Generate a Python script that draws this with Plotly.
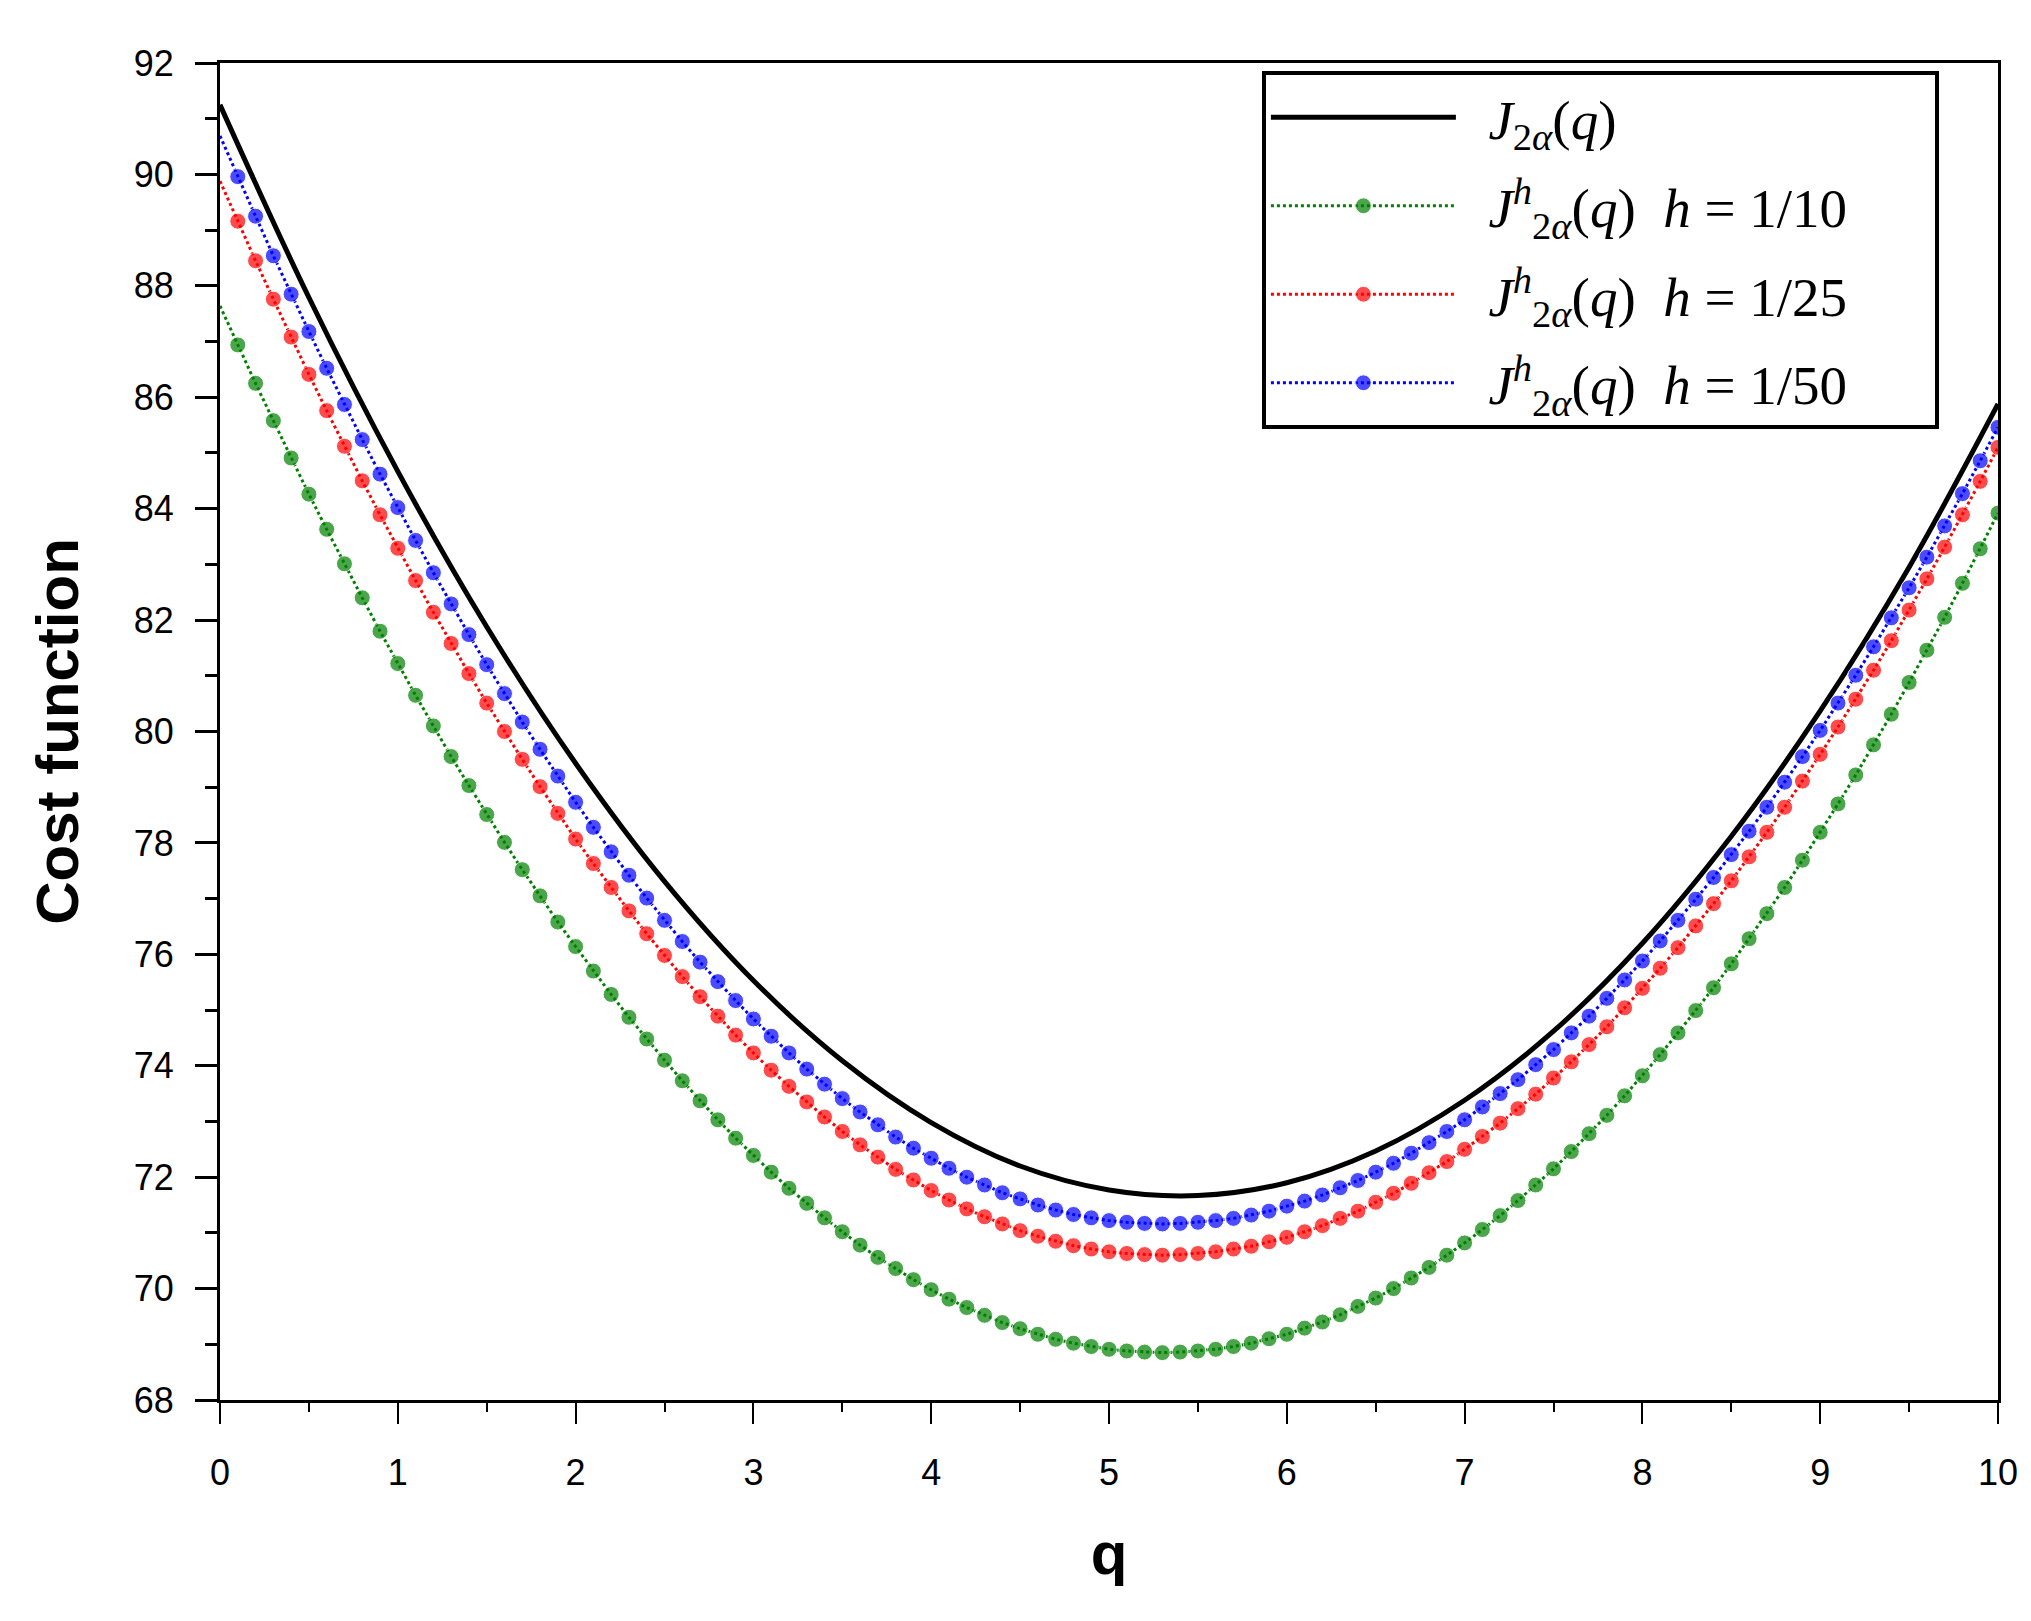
import plotly.graph_objects as go

# q grid for the discrete cost functions (step 0.1) and the exact one (step 0.5)
q_h = [round(i * 0.1, 1) for i in range(101)]
q_exact = [round(i * 0.5, 1) for i in range(21)]

J_exact = [91.25, 87.79, 84.67, 81.88, 79.43, 77.31, 75.53, 74.09, 72.98, 72.20, 71.77,
           71.67, 71.90, 72.47, 73.38, 74.62, 76.20, 78.12, 80.37, 82.95, 85.88]

J_h10 = [87.64, 86.94, 86.25, 85.58, 84.91, 84.26, 83.63, 83.01, 82.40, 81.80,
         81.22, 80.65, 80.10, 79.55, 79.03, 78.51, 78.01, 77.52, 77.05, 76.58,
         76.14, 75.70, 75.28, 74.87, 74.48, 74.10, 73.73, 73.37, 73.03, 72.70,
         72.39, 72.09, 71.80, 71.53, 71.27, 71.02, 70.78, 70.56, 70.36, 70.16,
         69.98, 69.81, 69.66, 69.52, 69.39, 69.28, 69.18, 69.09, 69.02, 68.96,
         68.91, 68.88, 68.86, 68.85, 68.86, 68.88, 68.91, 68.96, 69.02, 69.10,
         69.18, 69.29, 69.40, 69.53, 69.68, 69.83, 70.00, 70.19, 70.38, 70.60,
         70.82, 71.06, 71.31, 71.58, 71.86, 72.15, 72.46, 72.78, 73.11, 73.46,
         73.82, 74.20, 74.59, 74.99, 75.40, 75.83, 76.28, 76.73, 77.20, 77.69,
         78.19, 78.70, 79.22, 79.76, 80.31, 80.88, 81.46, 82.05, 82.66, 83.28,
         83.92]

J_h25 = [89.88, 89.16, 88.45, 87.76, 87.08, 86.41, 85.76, 85.12, 84.50, 83.89,
         83.29, 82.71, 82.14, 81.58, 81.04, 80.51, 80.00, 79.50, 79.01, 78.53,
         78.07, 77.63, 77.20, 76.78, 76.37, 75.98, 75.60, 75.24, 74.89, 74.55,
         74.23, 73.92, 73.63, 73.35, 73.08, 72.82, 72.58, 72.36, 72.14, 71.95,
         71.76, 71.59, 71.43, 71.29, 71.16, 71.04, 70.94, 70.85, 70.77, 70.71,
         70.66, 70.63, 70.61, 70.60, 70.61, 70.63, 70.66, 70.71, 70.76, 70.84,
         70.92, 71.02, 71.13, 71.26, 71.39, 71.55, 71.71, 71.89, 72.08, 72.28,
         72.50, 72.73, 72.97, 73.23, 73.49, 73.78, 74.07, 74.38, 74.70, 75.04,
         75.39, 75.75, 76.12, 76.51, 76.91, 77.32, 77.75, 78.19, 78.64, 79.11,
         79.59, 80.08, 80.58, 81.10, 81.63, 82.18, 82.74, 83.31, 83.89, 84.49,
         85.10]

J_h50 = [90.69, 89.96, 89.25, 88.54, 87.85, 87.18, 86.52, 85.87, 85.24, 84.62,
         84.02, 83.43, 82.85, 82.29, 81.74, 81.20, 80.68, 80.17, 79.68, 79.20,
         78.73, 78.28, 77.84, 77.42, 77.01, 76.61, 76.23, 75.86, 75.51, 75.17,
         74.84, 74.53, 74.23, 73.94, 73.67, 73.41, 73.17, 72.94, 72.72, 72.52,
         72.34, 72.16, 72.00, 71.86, 71.72, 71.61, 71.50, 71.41, 71.33, 71.27,
         71.22, 71.19, 71.17, 71.16, 71.17, 71.19, 71.22, 71.26, 71.32, 71.39,
         71.48, 71.57, 71.68, 71.81, 71.94, 72.09, 72.25, 72.43, 72.62, 72.82,
         73.03, 73.26, 73.50, 73.75, 74.02, 74.29, 74.59, 74.89, 75.21, 75.54,
         75.88, 76.24, 76.61, 76.99, 77.38, 77.79, 78.21, 78.64, 79.09, 79.55,
         80.02, 80.51, 81.01, 81.52, 82.04, 82.58, 83.13, 83.69, 84.27, 84.86,
         85.46]

y_ticks = list(range(68, 93, 2))
x_ticks = list(range(0, 11))

pad = "\u00a0" * 2
J_name = pad + "<i>J</i><sub>2<i>α</i></sub>(<i>q</i>)"
Jh_name = pad + "<i>J</i><sup><i>h</i></sup><sub>2<i>α</i></sub>(<i>q</i>)  <i>h</i> = "

# no marker on the q = 0 point, like the original
msize = [0] + [16] * (len(q_h) - 1)

fig = go.Figure()
fig.add_trace(go.Scatter(x=q_exact, y=J_exact, mode="lines", name=J_name, legendgroup="a",
                         line=dict(color="black", width=5, shape="spline")))
for vals, col, lab in [(J_h10, "#008000", "1/10"),
                       (J_h25, "#ff0000", "1/25"),
                       (J_h50, "#0000ff", "1/50")]:
    fig.add_trace(go.Scatter(x=q_h, y=vals, mode="lines+markers",
                             name=Jh_name + lab + "\u00a0" * 6, legendgroup=lab,
                             line=dict(color=col, width=3, dash="dot"),
                             marker=dict(color=col, size=msize, symbol="circle")))

axis_font = dict(family="Liberation Sans, Arial", size=36, color="black")
fig.update_layout(
    width=2031, height=1621,
    margin=dict(l=212, r=41, t=55, b=229),
    paper_bgcolor="white", plot_bgcolor="white",
    showlegend=True,
    legend=dict(x=0.586, y=0.994, xanchor="left", yanchor="top",
                bordercolor="black", borderwidth=4, bgcolor="white",
                font=dict(family="Liberation Serif, DejaVu Serif", size=55, color="black"),
                itemwidth=185, tracegroupgap=14),
    xaxis=dict(range=[0, 10], tickvals=x_ticks, ticks="outside", ticklen=21, tickwidth=2,
               tickcolor="black", showline=True, linecolor="black", linewidth=3, mirror=True,
               showgrid=False, zeroline=False, tickfont=axis_font, ticklabelstandoff=18,
               minor=dict(dtick=0.5, ticks="outside", ticklen=9, tickwidth=2, tickcolor="black"),
               title=dict(text="<b>q</b>", standoff=40,
                          font=dict(family="Liberation Sans, Arial", size=60, color="black"))),
    yaxis=dict(range=[68, 92], tickvals=y_ticks, ticks="outside", ticklen=22, tickwidth=3,
               tickcolor="black", showline=True, linecolor="black", linewidth=3, mirror=True,
               showgrid=False, zeroline=False, tickfont=axis_font, ticklabelstandoff=14,
               minor=dict(dtick=1, ticks="outside", ticklen=12, tickwidth=3, tickcolor="black"),
               title=dict(text="<b>Cost function</b>", standoff=36,
                          font=dict(family="Liberation Sans, Arial", size=60, color="black"))),
)

fig.write_html("out.html")
